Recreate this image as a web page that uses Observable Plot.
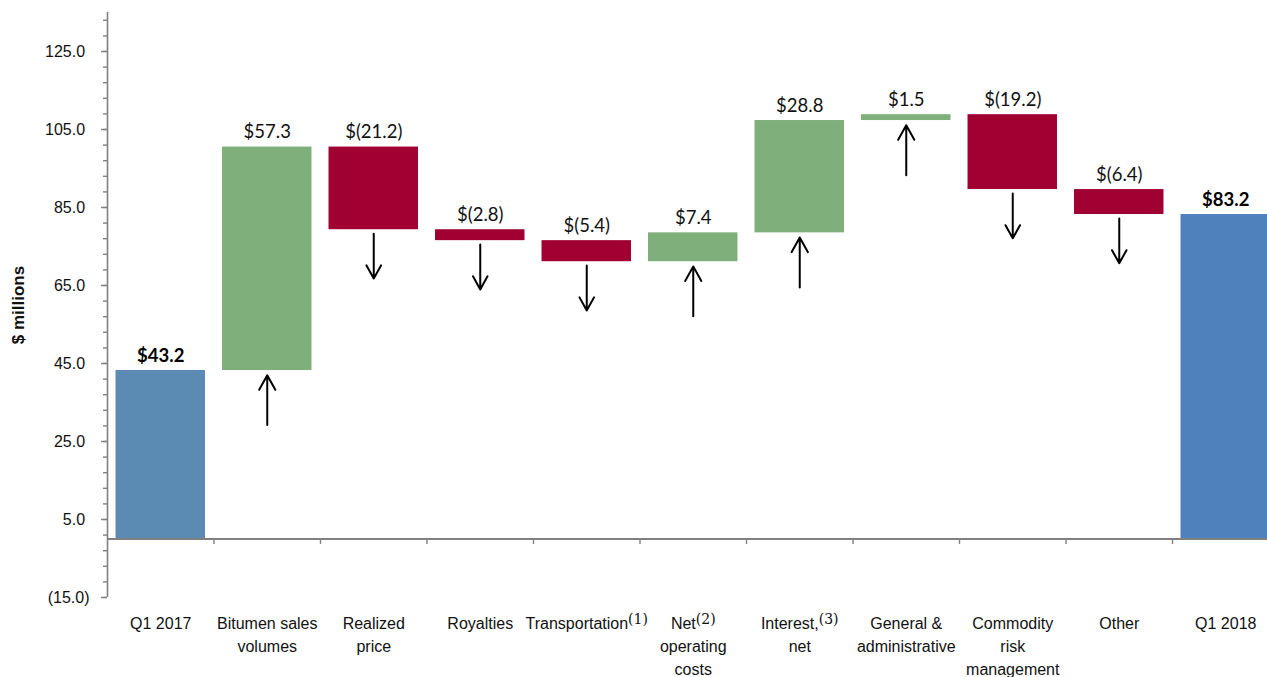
<!DOCTYPE html>
<html>
<head>
<meta charset="utf-8">
<script src="https://cdn.jsdelivr.net/npm/d3@7"></script>
<script src="https://cdn.jsdelivr.net/npm/@observablehq/plot@0.6"></script>
<style>
  html, body { margin: 0; padding: 0; background: #fff; overflow: hidden; }
  #chart { width: 1279px; }
</style>
</head>
<body>
<div id="chart"></div>
<script>
// ---- Data ----
const categories = [
  "Q1 2017",
  "Bitumen sales\nvolumes",
  "Realized\nprice",
  "Royalties",
  "Transportation\u207D\u00B9\u207E",
  "Net\u207D\u00B2\u207E\noperating\ncosts",
  "Interest,\u207D\u00B3\u207E\nnet",
  "General &\nadministrative",
  "Commodity\nrisk\nmanagement",
  "Other",
  "Q1 2018"
];
const values = [43.2, 57.3, -21.2, -2.8, -5.4, 7.4, 28.8, 1.5, -19.2, -6.4, 83.2];
const kinds = ["start", "up", "down", "down", "down", "up", "up", "up", "down", "down", "end"];
const majorTicks = [-15, 5, 25, 45, 65, 85, 105, 125];
const minorTicks = d3.range(-15, 135, 4);

// ---- Build waterfall table ----
let running = 0;
const rows = categories.map((label, i) => {
  const kind = kinds[i];
  let y1, y2;
  if (kind === "start" || kind === "end") {
    y1 = 0; y2 = values[i]; running = values[i];
  } else {
    y1 = running; y2 = running + values[i]; running = y2;
  }
  const v = values[i];
  const text = v < 0 ? `$(${Math.abs(v).toFixed(1)})` : `$${v.toFixed(1)}`;
  return {i, label, kind, y1, y2, lo: Math.min(y1, y2), hi: Math.max(y1, y2), text,
          total: kind === "start" || kind === "end"};
});
const deltas = rows.filter(d => !d.total);
const totals = rows.filter(d => d.total);
const arrows = deltas.map(d => d.kind === "up"
  ? {i: d.i, from: d.lo - 14.0, to: d.lo - 1.2}
  : {i: d.i, from: d.lo - 1.0, to: d.lo - 12.5});

const fmtY = v => v < 0 ? `(${Math.abs(v).toFixed(1)})` : `${v.toFixed(1)}\u2008`;
const labelFont = "Lato, 'Open Sans', sans-serif";

const chart = Plot.plot({
  width: 1279,
  height: 677,
  marginLeft: 107,
  marginRight: 0.5,
  marginTop: 12,
  marginBottom: 80,
  x: {domain: [-0.5, 10.5], axis: null},
  y: {domain: [-15, 135], axis: null},
  color: {domain: ["start", "up", "down", "end"], range: ["#5b8ab3", "#7faf7b", "#a00032", "#4f81bd"]},
  style: {fontFamily: "'Liberation Sans', Arial, sans-serif", fontSize: "16px", background: "#fff", color: "#111"},
  marks: [
    // bars
    Plot.rectY(rows, {x1: d => d.i - 0.42, x2: d => d.i + 0.42, y1: "y1", y2: "y2", fill: "kind"}),
    // y axis line
    Plot.ruleX([-0.5], {y1: -15, y2: 135, stroke: "#808080", strokeWidth: 1.6}),
    // minor ticks
    Plot.axisY(minorTicks, {tickSize: 4, text: null, stroke: "#808080", strokeWidth: 1.4}),
    // major ticks + labels
    Plot.axisY(majorTicks, {tickSize: 6, tickPadding: 12, tickFormat: fmtY, stroke: "#808080", strokeWidth: 1.4, fill: "#111", fontSize: 16}),
    // zero line
    Plot.ruleY([0], {stroke: "#808080", strokeWidth: 1.8}),
    // category boundary ticks
    Plot.ruleX(d3.range(0.5, 11, 1), {y1: 0, y2: -1.4, stroke: "#808080", strokeWidth: 1.4}),
    // arrows
    Plot.arrow(arrows, {x1: "i", x2: "i", y1: "from", y2: "to", stroke: "#000", strokeWidth: 2, headLength: 19, headAngle: 58}),
    // value labels
    Plot.text(deltas, {x: "i", y: "hi", text: "text", lineAnchor: "bottom", dy: -9,
      fontFamily: labelFont, fontSize: 18.5, fill: "#111"}),
    Plot.text(totals, {x: "i", y: "hi", text: "text", lineAnchor: "bottom", dy: -9,
      fontFamily: labelFont, fontSize: 18.5, fontWeight: "bold", fill: "#000"}),
    // category labels
    Plot.text(rows, {x: "i", frameAnchor: "bottom", text: "label", lineAnchor: "top", dy: 15, lineHeight: 1.44, fontSize: 16, fill: "#111"}),
    // y label
    Plot.text(["$ millions"], {frameAnchor: "left", dx: -89, rotate: -90, textAnchor: "middle", lineAnchor: "middle", fontWeight: "bold", fontSize: 17, fill: "#111"})
  ]
});

// Render footnote markers as real raised superscripts
const supMap = {"\u00B9": "1", "\u00B2": "2", "\u00B3": "3"};
const walker = document.createTreeWalker(chart, NodeFilter.SHOW_TEXT);
const targets = [];
while (walker.nextNode()) if (/\u207D[\u00B9\u00B2\u00B3]\u207E/.test(walker.currentNode.nodeValue)) targets.push(walker.currentNode);
for (const node of targets) {
  const m = node.nodeValue.match(/^(.*?)\u207D([\u00B9\u00B2\u00B3])\u207E(.*)$/);
  const parent = node.parentNode;
  const ns = "http://www.w3.org/2000/svg";
  const sup = document.createElementNS(ns, "tspan");
  sup.setAttribute("baseline-shift", "38%");
  sup.setAttribute("font-size", "14");
  sup.setAttribute("font-family", "'DejaVu Serif', 'Liberation Serif', serif");
  sup.textContent = "(" + supMap[m[2]] + ")";
  const before = document.createTextNode(m[1]);
  const after = document.createTextNode(m[3]);
  parent.insertBefore(before, node);
  parent.insertBefore(sup, node);
  parent.insertBefore(after, node);
  parent.removeChild(node);
}
document.getElementById("chart").appendChild(chart);
</script>
</body>
</html>
